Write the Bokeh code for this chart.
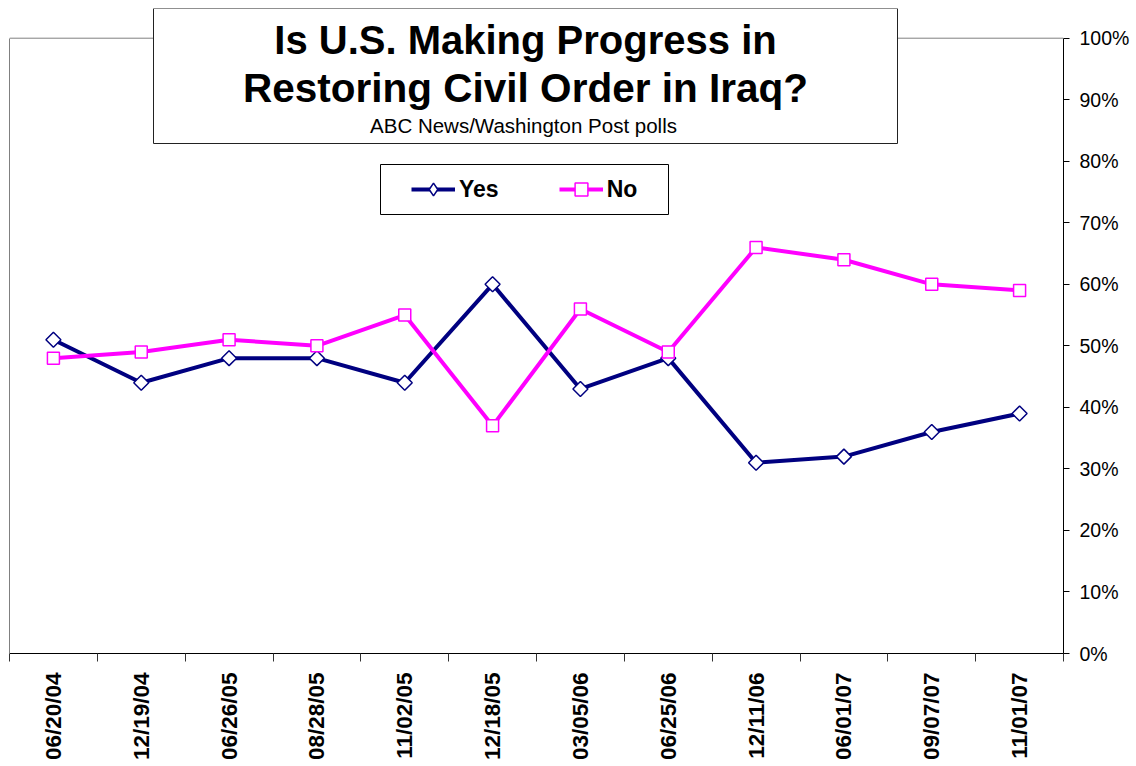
import numpy as np
from bokeh.plotting import figure
from bokeh.models import (Range1d, LinearAxis, FixedTicker, PrintfTickFormatter,
                          BoxAnnotation, Label, Legend, LegendItem, Span)
from bokeh.embed import file_html
from bokeh.resources import INLINE

# ---- data ----
dates = ["06/20/04", "12/19/04", "06/26/05", "08/28/05", "11/02/05", "12/18/05",
         "03/05/06", "06/25/06", "12/11/06", "06/01/07", "09/07/07", "11/01/07"]
yes = [51, 44, 48, 48, 44, 60, 43, 48, 31, 32, 36, 39]
no = [48, 49, 51, 50, 55, 37, 56, 49, 66, 64, 60, 59]
pct_ticks = list(range(0, 101, 10))

title_lines = ["Is U.S. Making Progress in", "Restoring Civil Order in Iraq?"]
subtitle = "ABC News/Washington Post polls"

FONT = "Liberation Sans"
NAVY = "#000080"
MAGENTA = "#FF00FF"

n = len(dates)
xc = [i + 0.5 for i in range(n)]

FW, FH = 1054, 645
PX_PER_PCT = 6.153
y_top = FH / PX_PER_PCT
FRAME_LEFT_PAGE = 9
FRAME_BOTTOM_PAGE = 653


def px2x(px):
    return (px - FRAME_LEFT_PAGE) / (FW / n)


def py2y(py):
    return (FRAME_BOTTOM_PAGE - py) / PX_PER_PCT


p = figure(frame_width=FW, frame_height=FH, x_range=Range1d(0, n), y_range=Range1d(0, y_top),
           output_backend="svg", toolbar_location=None, y_axis_location=None,
           min_border_left=9, min_border_top=8, min_border_right=0, min_border_bottom=0)
p.outline_line_color = None
p.grid.visible = False
p.background_fill_color = "white"
p.border_fill_color = "white"

# bottom axis
xa = p.xaxis[0]
xa.ticker = FixedTicker(ticks=xc, minor_ticks=list(range(n + 1)))
xa.major_label_overrides = {x: d for x, d in zip(xc, dates)}
xa.major_label_orientation = np.pi / 2
xa.major_tick_line_color = None
xa.major_tick_in = 0
xa.major_tick_out = 0
xa.minor_tick_line_color = "#333333"
xa.minor_tick_in = 0
xa.minor_tick_out = 8
xa.axis_line_color = "black"
xa.major_label_standoff = 11
xa.major_label_text_font = FONT
xa.major_label_text_font_style = "bold"
xa.major_label_text_font_size = "22.5px"
xa.major_label_text_color = "black"

# left gray frame line (0..100%)
ly = LinearAxis(bounds=(0, 100), ticker=FixedTicker(ticks=[]))
ly.major_tick_line_color = None
ly.minor_tick_line_color = None
ly.major_tick_out = 0
ly.major_tick_in = 0
ly.major_label_standoff = 0
ly.major_label_text_font_size = "0px"
ly.axis_line_color = "#808080"
p.add_layout(ly, "left")

# right percent axis
ry = LinearAxis(bounds=(0, 100), ticker=FixedTicker(ticks=pct_ticks),
                formatter=PrintfTickFormatter(format="%d%%"))
ry.major_tick_in = 0
ry.major_tick_out = 6
ry.minor_tick_line_color = None
ry.axis_line_color = "black"
ry.major_tick_line_color = "black"
ry.major_label_standoff = 10
ry.major_label_text_font = FONT
ry.major_label_text_font_size = "19.5px"
ry.major_label_text_color = "black"
p.add_layout(ry, "right")

# top gray frame line at 100%
p.add_layout(Span(location=100, dimension="width", line_color="#808080", line_width=1))

# series
r_yes_line = p.line(xc, yes, line_color=NAVY, line_width=4)
r_yes_pts = p.scatter(xc, yes, marker="square", angle=np.pi / 4, size=10.6,
                      fill_color="white", line_color=NAVY, line_width=1.5)
r_no_line = p.line(xc, no, line_color=MAGENTA, line_width=4)
r_no_pts = p.scatter(xc, no, marker="square", size=12,
                     fill_color="white", line_color=MAGENTA, line_width=1.5)
# legend proxy for the diamond (legend glyphs ignore marker angle); not drawn in the plot
r_yes_leg = p.scatter(xc, yes, marker="diamond", fill_color="white",
                      line_color=NAVY, line_width=1.5, visible=False)

# title box
p.add_layout(BoxAnnotation(left=px2x(153), right=px2x(897), top=py2y(8), bottom=py2y(143),
                           fill_color="white", fill_alpha=1.0, line_color="#222222",
                           line_width=1, line_alpha=1.0))
p.add_layout(Label(x=px2x(525), y=py2y(39), text=title_lines[0], text_align="center",
                   text_baseline="middle", text_font=FONT, text_font_style="bold",
                   text_font_size="40px", text_color="black"))
p.add_layout(Label(x=px2x(525), y=py2y(87), text=title_lines[1], text_align="center",
                   text_baseline="middle", text_font=FONT, text_font_style="bold",
                   text_font_size="40.5px", text_color="black"))
p.add_layout(Label(x=px2x(523), y=py2y(125), text=subtitle, text_align="center",
                   text_baseline="middle", text_font=FONT,
                   text_font_size="20.5px", text_color="black"))

# legend box
p.add_layout(BoxAnnotation(left=px2x(380), right=px2x(668), top=py2y(164), bottom=py2y(214),
                           fill_color="white", fill_alpha=1.0, line_color="black",
                           line_width=1, line_alpha=1.0))
legend = Legend(items=[LegendItem(label="Yes", renderers=[r_yes_line, r_yes_leg]),
                       LegendItem(label="No", renderers=[r_no_line, r_no_pts])],
                orientation="horizontal", location=(411 - FRAME_LEFT_PAGE, FRAME_BOTTOM_PAGE - 205),
                border_line_color=None, background_fill_alpha=0.0, padding=0, margin=0,
                spacing=60, glyph_width=44, glyph_height=32, label_standoff=4,
                label_text_font=FONT, label_text_font_style="bold", label_text_font_size="23px",
                label_text_color="black", click_policy="none")
p.add_layout(legend)

open("out.html", "w").write(file_html(p, INLINE))
